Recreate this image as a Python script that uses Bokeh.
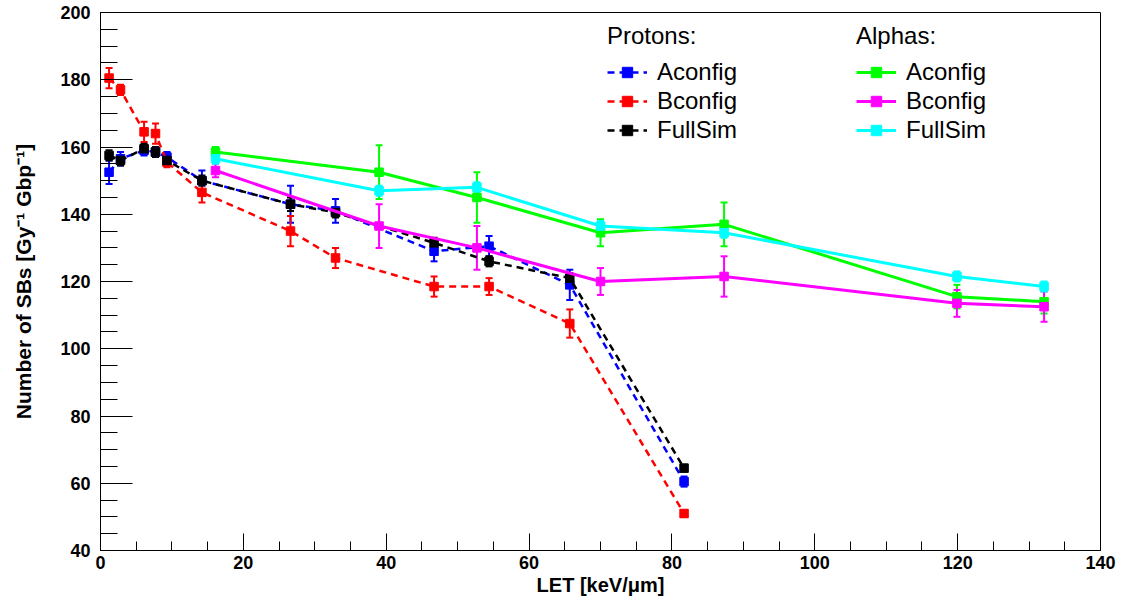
from bokeh.plotting import figure
from bokeh.models import (ColumnDataSource, Whisker, TeeHead, Legend, LegendItem,
                          SingleIntervalTicker, Range1d)
from bokeh.embed import file_html
from bokeh.resources import INLINE

# ---------------- data ----------------
# Protons
p_let = [1.2, 2.8, 6.1, 7.7, 9.3, 14.2, 26.6, 32.9, 46.7, 54.4, 65.7, 81.7]
p_a_y = [152.5, 156.5, 159.0, 158.5, 157.0, 150.0, 143.0, 141.0, 129.0, 130.5, 119.0, 60.5]
p_a_e = [3.5, 2.0, 1.5, 1.5, 1.5, 3.0, 5.5, 3.5, 3.0, 3.0, 4.5, 1.5]
p_b_y = [180.5, 177.0, 164.5, 164.0, 155.5, 146.5, 135.0, 127.0, 118.5, 118.5, 107.5, 51.0]
p_b_e = [3.0, 1.5, 3.0, 3.0, 1.5, 3.0, 4.5, 3.0, 3.0, 2.5, 4.2, 1.0]
p_f_y = [157.5, 156.0, 159.5, 158.5, 156.0, 150.0, 143.0, 140.5, 131.5, 126.0, 121.0, 64.5]
p_f_e = [1.5, 1.5, 1.5, 1.5, 1.5, 1.5, 2.0, 1.5, 1.5, 1.5, 1.5, 1.0]

# Alphas
a_let = [16.1, 39.0, 52.7, 70.0, 87.3, 119.9, 132.1]
a_a_y = [158.5, 152.5, 145.0, 134.5, 137.0, 115.5, 114.0]
a_a_e = [1.5, 8.0, 7.5, 4.0, 6.5, 3.5, 3.5]
a_b_y = [153.0, 136.5, 130.0, 120.0, 121.5, 113.5, 112.5]
a_b_e = [2.0, 6.5, 6.5, 4.0, 6.0, 4.0, 4.5]
a_f_y = [156.5, 147.0, 148.0, 136.5, 134.5, 121.5, 118.5]
a_f_e = [1.5, 1.5, 1.5, 1.5, 1.5, 1.5, 1.5]

series_names = ["Aconfig", "Bconfig", "FullSim"]
proton_colors = ["#0000ff", "#ff0000", "#000000"]
alpha_colors = ["#00ff00", "#ff00ff", "#00ffff"]

FONT = "Liberation Sans"

p = figure(width=1122, height=598, output_backend="svg", toolbar_location=None,
           x_range=Range1d(0, 140), y_range=Range1d(40, 200),
           min_border_left=100, min_border_right=22, min_border_top=12, min_border_bottom=47)
p.background_fill_color = "white"
p.border_fill_color = "white"
p.outline_line_color = "black"
p.outline_line_width = 1
p.xgrid.visible = False
p.ygrid.visible = False

for ax in (p.xaxis[0], p.yaxis[0]):
    ax.ticker = SingleIntervalTicker(interval=20, num_minor_ticks=4)
    ax.axis_line_color = "black"
    ax.major_tick_line_color = "black"
    ax.minor_tick_line_color = "black"
    ax.major_tick_out = 0
    ax.minor_tick_out = 0
    ax.major_label_text_font = FONT
    ax.major_label_text_font_style = "bold"
    ax.major_label_text_font_size = "18px"
    ax.major_label_text_color = "black"
    ax.axis_label_text_font = FONT
    ax.axis_label_text_font_style = "bold"
    ax.axis_label_text_color = "black"

p.xaxis.major_tick_in = 17
p.xaxis.minor_tick_in = 9
p.yaxis.major_tick_in = 32
p.yaxis.minor_tick_in = 17
p.xaxis.major_label_standoff = 5
p.yaxis.major_label_standoff = 10
p.xaxis.axis_label = "LET [keV/\u03bcm]"
p.yaxis.axis_label = "Number of SBs [Gy\u207b\u00b9 Gbp\u207b\u00b9]"
p.xaxis.axis_label_text_font_size = "20px"
p.yaxis.axis_label_text_font_size = "21px"
p.xaxis.axis_label_standoff = 2
p.yaxis.axis_label_standoff = 22


def draw(xs, ys, es, color, dash):
    src = ColumnDataSource(dict(x=xs, y=ys,
                                lo=[y - e for y, e in zip(ys, es)],
                                hi=[y + e for y, e in zip(ys, es)]))
    line = p.line("x", "y", source=src, line_color=color, line_width=2.5 if dash else 3,
                  line_dash=dash if dash else "solid")
    wh = Whisker(source=src, base="x", lower="lo", upper="hi", dimension="height",
                 line_color=color, line_width=2,
                 upper_head=TeeHead(size=7, line_color=color, line_width=2),
                 lower_head=TeeHead(size=7, line_color=color, line_width=2))
    p.add_layout(wh)
    mk = p.scatter("x", "y", source=src, marker="square", size=8.5,
                   fill_color=color, line_color=color)
    return [line, mk]


proton_data = [(p_a_y, p_a_e), (p_b_y, p_b_e), (p_f_y, p_f_e)]
alpha_data = [(a_a_y, a_a_e), (a_b_y, a_b_e), (a_f_y, a_f_e)]

proton_items = []
for (ys, es), col, name in zip(proton_data, proton_colors, series_names):
    r = draw(p_let, ys, es, col, "7 5")
    proton_items.append(LegendItem(label=name, renderers=r))

alpha_items = []
for (ys, es), col, name in zip(alpha_data, alpha_colors, series_names):
    r = draw(a_let, ys, es, col, None)
    alpha_items.append(LegendItem(label=name, renderers=r))


def make_legend(items, title, loc):
    lg = Legend(items=items, title=title, location=loc,
                title_text_font=FONT, title_text_font_size="24px",
                title_text_font_style="normal", title_text_color="black",
                title_standoff=8,
                label_text_font=FONT, label_text_font_size="24px", label_text_color="black",
                glyph_width=40, glyph_height=26, label_height=26, label_standoff=10,
                spacing=1, padding=0, margin=0,
                border_line_color=None, background_fill_alpha=0)
    p.add_layout(lg)
    return lg


make_legend(proton_items, "Protons:", (507, 406))
make_legend(alpha_items, "Alphas:", (756, 406))

open("out.html", "w").write(file_html(p, INLINE))
